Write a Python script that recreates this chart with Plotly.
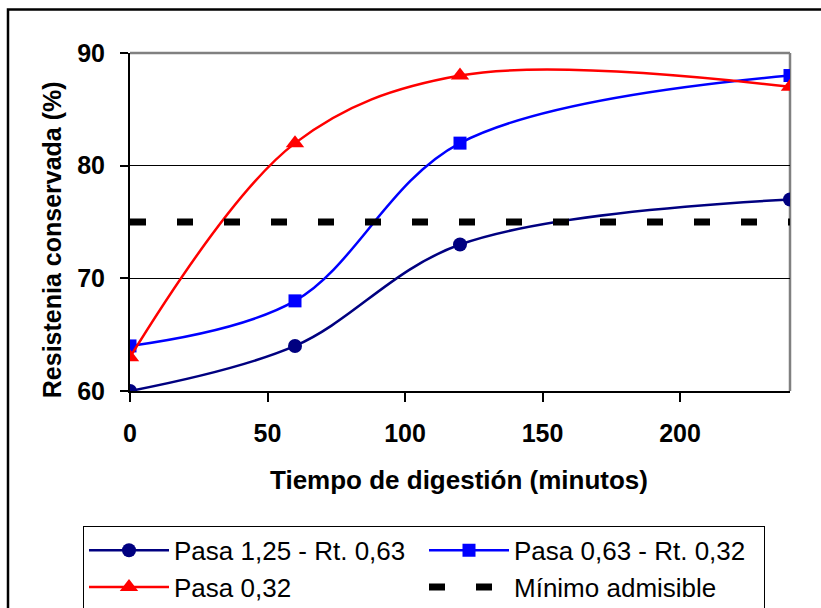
import plotly.graph_objects as go

tiempo = [0, 60, 120, 240]
pasa_125 = [60, 64, 73, 77]
pasa_063 = [64, 68, 82, 88]
pasa_032 = [63, 82, 88, 87]
minimo_x = [0, 240]
minimo_y = [75, 75]

names = ["Pasa 1,25 - Rt. 0,63", "Pasa 0,63 - Rt. 0,32", "Pasa 0,32", "Mínimo admisible"]
x_ticks = [0, 50, 100, 150, 200]
y_ticks = [60, 70, 80, 90]

W, H = 821, 608
L, R, T, B = 130, 31, 52.5, 217
pw, ph = W - L - R, H - T - B

def px(x):
    return (x - L) / pw

def py(y):
    return (H - B - y) / ph

fig = go.Figure()
fig.add_trace(go.Scatter(x=tiempo, y=pasa_125, name=names[0], mode="lines+markers",
                         line=dict(color="#000080", width=2.5, shape="spline", smoothing=1),
                         marker=dict(symbol="circle", size=14, color="#000080")))
fig.add_trace(go.Scatter(x=tiempo, y=pasa_063, name=names[1], mode="lines+markers",
                         line=dict(color="#0000FF", width=2.5, shape="spline", smoothing=1),
                         marker=dict(symbol="square", size=13, color="#0000FF")))
fig.add_trace(go.Scatter(x=tiempo, y=pasa_032, name=names[2], mode="lines+markers",
                         line=dict(color="#FF0000", width=2.5, shape="spline", smoothing=1),
                         marker=dict(symbol="triangle-up", size=16, color="#FF0000")))
fig.add_trace(go.Scatter(x=minimo_x, y=minimo_y, name=names[3], mode="lines",
                         line=dict(color="black", width=7, dash="16px,31px")))

font_family = "Liberation Sans, Arial, sans-serif"

fig.update_layout(
    template="none",
    width=W, height=H,
    margin=dict(l=L, r=R, t=T, b=B, autoexpand=False),
    paper_bgcolor="white", plot_bgcolor="white",
    font=dict(family=font_family, color="black"),
    showlegend=True,
    legend=dict(orientation="h", x=px(83), y=py(526), xanchor="left", yanchor="top",
                font=dict(size=26, family=font_family, color="black"),
                bordercolor="black", borderwidth=1, bgcolor="white",
                itemwidth=80,
                entrywidth=245, entrywidthmode="pixels", traceorder="normal"),
    xaxis=dict(range=[0, 240], tickvals=x_ticks, showgrid=False, zeroline=False,
               automargin=False,
               showline=True, linecolor="black", linewidth=2,
               ticks="outside", ticklen=9, tickcolor="black", tickwidth=1.5,
               ticklabelstandoff=10,
               tickfont=dict(size=25, family=font_family, color="black", weight="bold")),
    yaxis=dict(range=[60, 90], tickvals=y_ticks, showgrid=True, gridcolor="black", gridwidth=1,
               automargin=False,
               zeroline=False, showline=True, linecolor="black", linewidth=2,
               ticks="outside", ticklen=8, tickcolor="black", tickwidth=1.5,
               ticklabelstandoff=10,
               tickfont=dict(size=25, family=font_family, color="black", weight="bold")),
    annotations=[
        dict(text="Tiempo de digestión (minutos)", xref="paper", yref="paper",
             x=px(459), y=py(480), showarrow=False, xanchor="center", yanchor="middle",
             font=dict(size=26, family=font_family, color="black", weight="bold")),
        dict(text="Resistenia conservada (%)", xref="paper", yref="paper",
             x=px(52), y=py(240), showarrow=False, xanchor="center", yanchor="middle",
             textangle=-90,
             font=dict(size=25, family=font_family, color="black", weight="bold")),
    ],
    shapes=[
        dict(type="line", xref="paper", yref="paper", x0=0, x1=1, y0=1, y1=1,
             line=dict(color="#808080", width=2.5), layer="above"),
        dict(type="line", xref="paper", yref="paper", x0=1, x1=1, y0=0, y1=1,
             line=dict(color="#808080", width=2.5), layer="below"),
        dict(type="rect", xref="paper", yref="paper", x0=px(8), x1=px(830), y0=py(9), y1=py(620),
             line=dict(color="black", width=2.5), fillcolor="rgba(0,0,0,0)", layer="above"),
    ],
)

fig.write_html("out.html")
